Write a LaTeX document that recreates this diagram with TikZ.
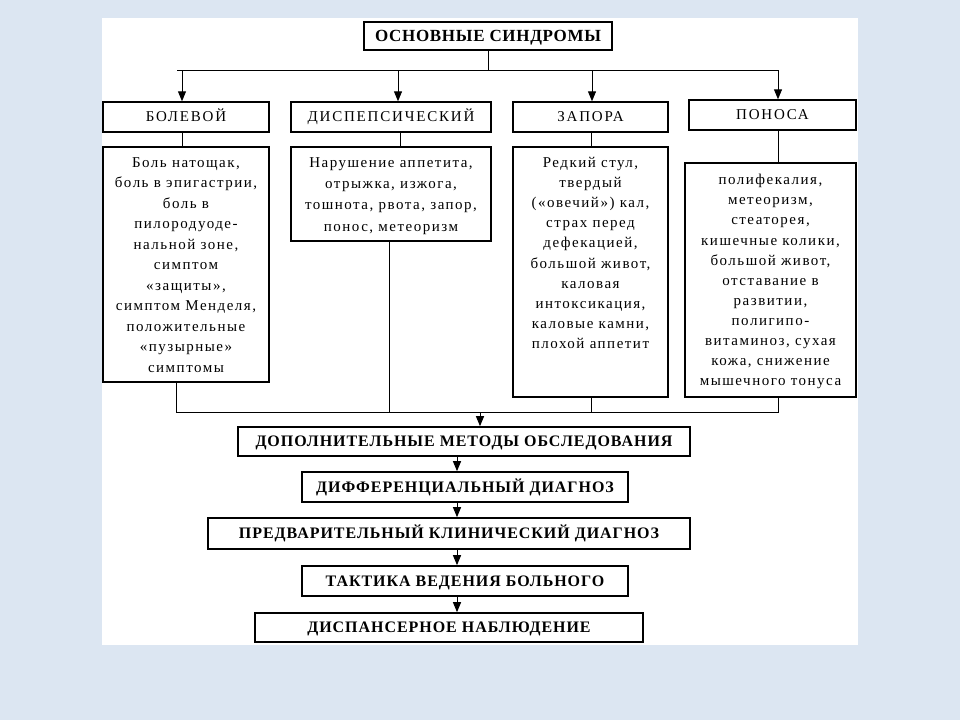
\documentclass[tikz,border=0pt]{standalone}
\usepackage{fontspec}
\setmainfont{Liberation Serif}
\usetikzlibrary{arrows.meta,calc}
\definecolor{bgblue}{HTML}{DCE6F2}
\begin{document}
\begin{tikzpicture}[x=1pt,y=-1pt,
  hbox/.style={draw, line width=1.4pt, inner sep=0pt, text height=9.9pt, text depth=0pt, font=\fontsize{15}{18}\selectfont\addfontfeature{LetterSpace=12}},
  topbox/.style={draw, line width=1.6pt, inner sep=0pt, text height=11.2pt, text depth=0pt, font=\fontsize{17}{20}\selectfont\bfseries\addfontfeature{LetterSpace=4}},
  chainbox/.style={draw, line width=1.6pt, inner sep=0pt, text height=10.6pt, text depth=0pt, font=\fontsize{16}{19}\selectfont\bfseries\addfontfeature{LetterSpace=6}},
  dbox/.style={draw, line width=1.8pt, inner sep=0pt},
  dtext/.style={align=center, inner sep=0pt, anchor=north, font=\fontsize{15}{#1}\selectfont\addfontfeature{LetterSpace=10}},
  dtext/.default=20.5,
  conn/.style={line width=1pt},
  arr/.style={conn, -{Triangle[width=8pt,length=10pt]}}]
\fill[bgblue] (0,0) rectangle (960,720);
\useasboundingbox (0,0) rectangle (960,720);
\fill[white] (102,18) rectangle (858,645);

% top
\node[topbox, minimum width=248pt, minimum height=28pt] (top) at (488,36) {ОСНОВНЫЕ СИНДРОМЫ};

% headers
\node[hbox, minimum width=166pt, minimum height=30pt] (bol) at (186,117) {БОЛЕВОЙ};
\node[hbox, minimum width=200pt, minimum height=30pt] (disp) at (391,117) {ДИСПЕПСИЧЕСКИЙ};
\node[hbox, minimum width=155pt, minimum height=30pt] (zap) at (590.5,117) {ЗАПОРА};
\node[hbox, minimum width=167pt, minimum height=30pt] (pon) at (772.5,115) {ПОНОСА};

% detail boxes
\node[dbox, minimum width=166pt, minimum height=235pt] (d1) at (186,264.5) {};
\node[dbox, minimum width=200pt, minimum height=94pt] (d2) at (391,194) {};
\node[dbox, minimum width=155pt, minimum height=250pt] (d3) at (590.5,272) {};
\node[dbox, minimum width=171pt, minimum height=234pt] (d4) at (770.5,280) {};

\node[dtext] (t1) at ($(d1.north)+(0,11)$) {Боль натощак,\\боль в эпигастрии,\\боль в\\пилородуоде-\\нальной зоне,\\симптом\\«защиты»,\\симптом Менделя,\\положительные\\«пузырные»\\симптомы};
\node[dtext=21.3] (t2) at ($(d2.north)+(0,11)$) {Нарушение аппетита,\\отрыжка, изжога,\\тошнота, рвота, запор,\\понос, метеоризм};
\node[dtext=20.1] (t3) at ($(d3.north)+(0,11)$) {Редкий стул,\\твердый\\(«овечий») кал,\\страх перед\\дефекацией,\\большой живот,\\каловая\\интоксикация,\\каловые камни,\\плохой аппетит};
\node[dtext=20.1] (t4) at ($(d4.north)+(0,12)$) {полифекалия,\\метеоризм,\\стеаторея,\\кишечные колики,\\большой живот,\\отставание в\\развитии,\\полигипо-\\витаминоз, сухая\\кожа, снижение\\мышечного тонуса};

% chain
\node[chainbox, minimum width=452pt, minimum height=29pt] (dop) at (464,441.5) {ДОПОЛНИТЕЛЬНЫЕ МЕТОДЫ ОБСЛЕДОВАНИЯ};
\node[chainbox, minimum width=326pt, minimum height=30pt] (dif) at (465,487) {ДИФФЕРЕНЦИАЛЬНЫЙ ДИАГНОЗ};
\node[chainbox, minimum width=482pt, minimum height=31pt] (pred) at (449,533.5) {ПРЕДВАРИТЕЛЬНЫЙ КЛИНИЧЕСКИЙ ДИАГНОЗ};
\node[chainbox, minimum width=326pt, minimum height=30pt] (takt) at (465,581) {ТАКТИКА ВЕДЕНИЯ БОЛЬНОГО};
\node[chainbox, minimum width=388pt, minimum height=29pt] (disn) at (449,627.5) {ДИСПАНСЕРНОЕ НАБЛЮДЕНИЕ};

% top distribution
\coordinate (hub) at (488,70);
\coordinate (hl) at (177,70);
\coordinate (hr) at (779,70);
\coordinate (a1) at (182,70);
\coordinate (a2) at (398,70);
\coordinate (a3) at (592,70);
\coordinate (a4) at (778,70);
\draw[conn] (top.south) -- (hub);
\draw[conn] (hl) -- (hr);
\draw[arr] (a1) -- (a1 |- bol.north);
\draw[arr] (a2) -- (a2 |- disp.north);
\draw[arr] (a3) -- (a3 |- zap.north);
\draw[arr] (a4) -- (a4 |- pon.north);

% header to details
\draw[conn] (bol.south -| 182,0) -- (d1.north -| 182,0);
\draw[conn] (disp.south -| 400,0) -- (d2.north -| 400,0);
\draw[conn] (zap.south -| 591,0) -- (d3.north -| 591,0);
\draw[conn] (pon.south -| 778,0) -- (d4.north -| 778,0);

% bottom collection
\coordinate (c1) at (176,412.5);
\coordinate (c2) at (389,412.5);
\coordinate (c3) at (591.5,412.5);
\coordinate (c4) at (778,412.5);
\coordinate (cm) at (480,412.5);
\draw[conn] (c1 |- d1.south) -- (c1);
\draw[conn] (c2 |- d2.south) -- (c2);
\draw[conn] (c3 |- d3.south) -- (c3);
\draw[conn] (c4 |- d4.south) -- (c4);
\draw[conn] (c1) -- (c4);
\draw[arr] (cm) -- (cm |- dop.north);

% chain arrows
\coordinate (k1) at (457,0);
\draw[arr] (k1 |- dop.south) -- (k1 |- dif.north);
\draw[arr] (k1 |- dif.south) -- (k1 |- pred.north);
\draw[arr] (k1 |- pred.south) -- (k1 |- takt.north);
\draw[arr] (k1 |- takt.south) -- (k1 |- disn.north);
\end{tikzpicture}
\end{document}
